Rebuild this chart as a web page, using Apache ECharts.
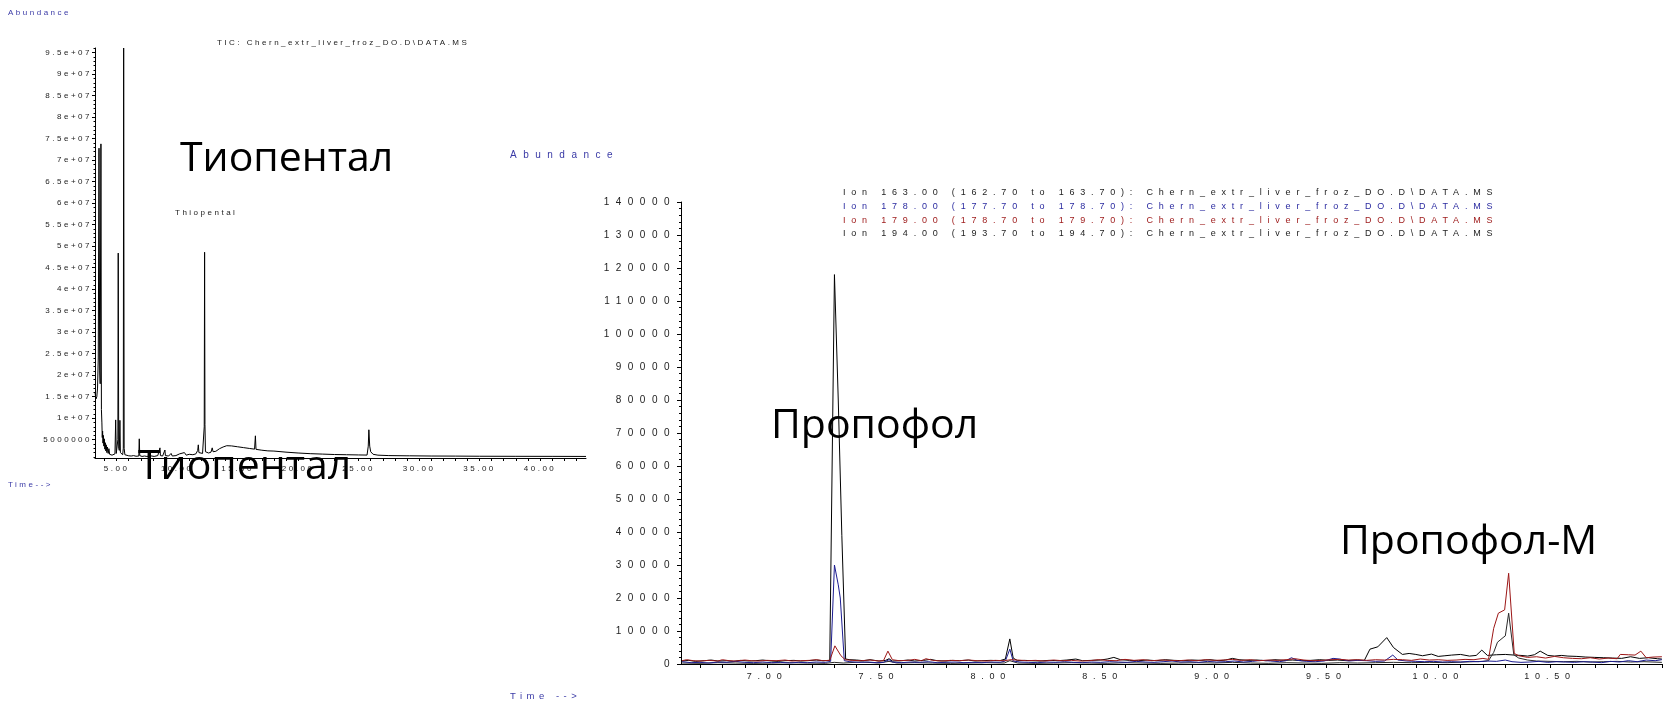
<!DOCTYPE html>
<html><head><meta charset="utf-8">
<script src="https://cdn.jsdelivr.net/npm/echarts@6/dist/echarts.min.js"></script>
<style>html,body{margin:0;padding:0;background:#fff;}#c{width:1663px;height:701px;}</style>
</head><body><div id="c"></div>
<script>
// ---------- TIC chromatogram (left) ----------
var ticXRange = [3.21, 43.8];
var ticYRange = [740000, 96100000];
var ticXLabels = [5, 10, 15, 20, 25, 30, 35, 40];
var ticYLabels = [5000000, 10000000, 15000000, 20000000, 25000000, 30000000, 35000000, 40000000, 45000000,
  50000000, 55000000, 60000000, 65000000, 70000000, 75000000, 80000000, 85000000, 90000000, 95000000];
// [time (min), abundance]
var ticData = [
  [3.21,16000000],[3.25,15200000],[3.30,14500000],[3.36,15000000],[3.42,17000000],[3.48,24000000],[3.54,72800000],
  [3.60,21000000],[3.64,18000000],[3.70,73800000],[3.74,12000000],[3.78,8900000],[3.81,5500000],[3.84,7000000],
  [3.87,4200000],[3.90,6000000],[3.94,3500000],[3.98,5200000],[4.02,2800000],[4.06,4300000],[4.10,2400000],
  [4.14,3800000],[4.19,2000000],[4.24,3300000],[4.30,1800000],[4.36,2900000],[4.42,1600000],[4.50,1500000],
  [4.62,1400000],[4.75,1500000],[4.86,1700000],[4.92,9600000],[4.97,1800000],[5.05,1900000],[5.10,5000000],
  [5.13,48400000],[5.17,3000000],[5.22,2500000],[5.27,9500000],[5.31,2000000],[5.40,1600000],[5.50,1500000],
  [5.55,3000000],[5.58,96100000],[5.62,3000000],[5.68,1500000],[5.80,1300000],[6.00,1250000],[6.20,1200000],
  [6.40,1300000],[6.60,1150000],[6.83,1200000],[6.87,5200000],[6.91,1300000],[7.10,1100000],[7.30,1200000],
  [7.50,1100000],[7.80,1250000],[8.10,1100000],[8.40,1300000],[8.55,1400000],[8.58,3100000],[8.62,1300000],
  [8.80,1200000],[8.96,1400000],[8.99,2600000],[9.03,1300000],[9.30,1200000],[9.50,1800000],[9.60,1200000],
  [9.90,1300000],[10.20,1700000],[10.35,1300000],[10.60,2000000],[10.75,1400000],[11.00,1600000],[11.30,1500000],
  [11.55,1700000],[11.70,2500000],[11.75,3800000],[11.80,2000000],[11.95,1900000],[12.10,1800000],[12.20,2000000],
  [12.24,8000000],[12.27,48600000],[12.30,8500000],[12.34,2200000],[12.45,1800000],[12.60,1900000],[12.80,2100000],
  [12.90,3100000],[12.97,2200000],[13.20,2300000],[13.50,2900000],[13.80,3300000],[14.10,3600000],[14.50,3550000],
  [15.00,3350000],[15.50,3150000],[16.00,2950000],[16.40,2800000],[16.47,5900000],[16.52,2750000],[17.00,2550000],
  [17.50,2400000],[18.00,2350000],[18.05,2600000],[18.10,2300000],[19.00,2100000],[20.00,1900000],[21.00,1750000],
  [22.00,1650000],[23.00,1550000],[24.00,1500000],[25.00,1450000],[25.70,1420000],[25.80,3500000],[25.85,7300000],
  [25.92,3500000],[26.00,2200000],[26.20,1600000],[26.60,1400000],[27.50,1300000],[29.00,1250000],[29.10,1350000],
  [29.20,1250000],[31.00,1200000],[33.00,1180000],[35.00,1150000],[38.00,1130000],[41.00,1120000],[43.80,1100000]
];

// ---------- Extracted ion chromatograms (right) ----------
var eicXRange = [6.615, 11.005];
var eicXLabels = [7.0, 7.5, 8.0, 8.5, 9.0, 9.5, 10.0, 10.5];
var eicXTicks = [6.7,6.8,6.9,7.0,7.1,7.2,7.3,7.4,7.5,7.6,7.7,7.8,7.9,8.0,8.1,8.2,8.3,8.4,8.5,8.6,8.7,8.8,8.9,
  9.0,9.1,9.2,9.3,9.4,9.5,9.6,9.7,9.8,9.9,10.0,10.1,10.2,10.3,10.4,10.5,10.6,10.7,10.8,10.9,11.0];
var eicYRange = [0, 140000];
var ionNames = [
  'Ion 163.00 (162.70 to 163.70): Chern_extr_liver_froz_DO.D\\DATA.MS',
  'Ion 178.00 (177.70 to 178.70): Chern_extr_liver_froz_DO.D\\DATA.MS',
  'Ion 179.00 (178.70 to 179.70): Chern_extr_liver_froz_DO.D\\DATA.MS',
  'Ion 194.00 (193.70 to 194.70): Chern_extr_liver_froz_DO.D\\DATA.MS'
];
var ion163 = [
  [6.62,900],[6.65,1100],[6.68,800],[6.72,1000],[6.75,1200],[6.78,900],[6.82,1000],[6.85,800],[6.88,1100],[6.92,900],
  [6.95,1000],[6.98,1200],[7.02,900],[7.05,800],[7.08,1000],[7.12,1100],[7.15,900],[7.18,1000],[7.22,1200],[7.25,1000],
  [7.28,1100],[7.284,1300],[7.301,118000],[7.318,80000],[7.334,39000],[7.351,1500],[7.37,1300],[7.40,1200],[7.43,1000],
  [7.46,1300],[7.50,900],[7.53,1100],[7.545,1600],[7.56,900],[7.60,1000],[7.63,1200],[7.66,900],[7.70,1100],[7.73,1400],
  [7.76,1000],[7.80,900],[7.83,1100],[7.86,1000],[7.90,1200],[7.93,900],[7.96,1000],[8.00,1100],[8.04,1000],[8.065,1500],
  [8.085,7600],[8.10,1800],[8.12,1000],[8.15,1100],[8.18,1000],[8.22,900],[8.26,1100],[8.30,1000],[8.34,1200],[8.38,1500],
  [8.41,1000],[8.45,1100],[8.49,1200],[8.52,1500],[8.55,2000],[8.58,1300],[8.62,1100],[8.66,1000],[8.70,1200],[8.74,1000],
  [8.78,1300],[8.82,1100],[8.86,1000],[8.90,1200],[8.94,1100],[8.98,1300],[9.02,1000],[9.05,1200],[9.08,1700],[9.11,1300],
  [9.15,1100],[9.19,1200],[9.23,1000],[9.27,1300],[9.31,1100],[9.35,1200],[9.39,1000],[9.43,1100],[9.47,1300],[9.51,1100],
  [9.55,1200],[9.59,1000],[9.63,1200],[9.67,1100],[9.695,4500],[9.73,5200],[9.77,8000],[9.80,5000],[9.84,2900],[9.87,3200],
  [9.90,2900],[9.93,2500],[9.97,3000],[10.00,2300],[10.03,2500],[10.06,2700],[10.10,2900],[10.14,2400],[10.17,2600],
  [10.195,4200],[10.22,2600],[10.26,2800],[10.30,2900],[10.34,2700],[10.37,2600],[10.40,2400],[10.43,2800],[10.456,3900],
  [10.49,2600],[10.52,2400],[10.55,2600],[10.58,2400],[10.62,2300],[10.66,2100],[10.70,2000],[10.74,1900],[10.78,1800],
  [10.82,1700],[10.86,2200],[10.90,1700],[10.94,1900],[10.98,1600],[11.0,1500]
];
var ion178 = [
  [6.62,700],[6.66,400],[6.70,500],[6.74,300],[6.78,600],[6.82,500],[6.86,800],[6.90,500],[6.94,400],[6.98,600],[7.02,400],
  [7.06,500],[7.10,300],[7.14,500],[7.18,400],[7.22,600],[7.26,500],[7.284,800],[7.301,30000],[7.318,24000],[7.327,20000],
  [7.345,1000],[7.37,700],[7.41,500],[7.45,600],[7.49,400],[7.52,500],[7.545,1300],[7.56,600],[7.60,400],[7.64,600],
  [7.68,500],[7.72,700],[7.76,400],[7.80,500],[7.84,600],[7.88,400],[7.92,500],[7.96,400],[8.00,600],[8.04,500],[8.065,900],
  [8.085,4500],[8.10,900],[8.13,600],[8.17,500],[8.21,400],[8.25,600],[8.29,500],[8.33,700],[8.37,500],[8.41,400],[8.45,600],
  [8.49,500],[8.53,700],[8.57,600],[8.61,500],[8.65,800],[8.69,600],[8.73,500],[8.77,700],[8.81,900],[8.85,600],[8.89,700],
  [8.93,500],[8.97,800],[9.01,600],[9.05,700],[9.09,900],[9.13,600],[9.17,800],[9.21,1100],[9.25,900],[9.29,700],[9.32,1000],
  [9.344,1900],[9.37,1100],[9.41,800],[9.45,700],[9.49,900],[9.53,1700],[9.56,1500],[9.60,900],[9.64,1100],[9.68,1000],
  [9.72,800],[9.76,900],[9.797,2700],[9.82,1200],[9.86,900],[9.90,800],[9.94,700],[9.98,800],[10.02,600],[10.06,700],
  [10.10,600],[10.14,800],[10.18,700],[10.22,900],[10.26,800],[10.30,1200],[10.33,700],[10.37,500],[10.41,600],[10.45,800],
  [10.49,500],[10.53,700],[10.57,600],[10.61,500],[10.65,700],[10.69,600],[10.73,400],[10.77,800],[10.81,600],[10.85,1000],
  [10.89,700],[10.93,1200],[10.97,1000],[11.0,1300]
];
var ion179 = [
  [6.62,1000],[6.64,1300],[6.67,1000],[6.70,900],[6.74,1100],[6.78,900],[6.80,1300],[6.83,1000],[6.86,900],[6.90,1200],
  [6.93,1000],[6.96,900],[7.00,1100],[7.04,1000],[7.08,1200],[7.11,900],[7.15,1000],[7.19,1100],[7.22,1300],[7.25,1000],
  [7.28,1100],[7.303,5500],[7.33,2500],[7.349,1300],[7.38,1100],[7.42,1000],[7.46,1200],[7.50,900],[7.52,1000],[7.54,3900],
  [7.56,1300],[7.59,1000],[7.63,1100],[7.66,1400],[7.69,1000],[7.71,1600],[7.74,1100],[7.78,900],[7.82,1100],[7.86,1000],
  [7.90,1200],[7.94,1000],[7.98,900],[8.02,1100],[8.06,1000],[8.09,1300],[8.12,1200],[8.16,1000],[8.20,1100],[8.24,900],
  [8.28,1200],[8.32,1000],[8.36,1100],[8.40,900],[8.44,1000],[8.48,1300],[8.52,1100],[8.56,1000],[8.60,1400],[8.64,1100],
  [8.68,1300],[8.72,1000],[8.76,1200],[8.80,1100],[8.84,1000],[8.88,1200],[8.92,1000],[8.96,1300],[9.00,1100],[9.04,1200],
  [9.08,1400],[9.12,1100],[9.16,1300],[9.20,1000],[9.24,1200],[9.28,1100],[9.32,1300],[9.36,1600],[9.40,1200],[9.44,1000],
  [9.48,1100],[9.52,1300],[9.56,1400],[9.60,1200],[9.64,1300],[9.68,1100],[9.72,1300],[9.76,1200],[9.80,1400],[9.84,1300],
  [9.88,1100],[9.92,1500],[9.96,1200],[10.00,1300],[10.04,1100],[10.08,1200],[10.12,1400],[10.16,1300],[10.20,1700],
  [10.225,1400],[10.248,10800],[10.269,15400],[10.297,16400],[10.315,27500],[10.34,3200],[10.36,2500],[10.40,2000],
  [10.44,2200],[10.48,1800],[10.52,2300],[10.56,1900],[10.60,1700],[10.64,1600],[10.68,1900],[10.72,1500],[10.76,1800],
  [10.80,1600],[10.814,2900],[10.85,2800],[10.88,2700],[10.906,3900],[10.93,1900],[10.96,2100],[11.0,2200]
];
var ion194 = [
  [6.62,300],[6.70,200],[6.78,400],[6.86,300],[6.94,200],[7.02,300],[7.10,400],[7.18,300],[7.26,200],[7.30,500],[7.34,300],
  [7.42,600],[7.50,300],[7.545,800],[7.58,300],[7.66,400],[7.74,300],[7.82,200],[7.90,300],[7.98,400],[8.06,300],[8.085,1000],
  [8.12,300],[8.20,200],[8.28,300],[8.36,400],[8.44,300],[8.52,200],[8.60,400],[8.68,300],[8.76,200],[8.84,300],[8.92,400],
  [9.00,300],[9.08,500],[9.16,300],[9.24,200],[9.32,400],[9.40,300],[9.48,200],[9.56,400],[9.64,300],[9.72,400],[9.80,500],
  [9.88,400],[9.96,500],[10.04,400],[10.12,600],[10.20,800],[10.225,1000],[10.248,3500],[10.265,6600],[10.29,8000],
  [10.30,8500],[10.315,15400],[10.338,2800],[10.36,1800],[10.40,1200],[10.44,900],[10.50,800],[10.56,700],[10.62,800],
  [10.68,600],[10.74,700],[10.80,800],[10.86,600],[10.92,700],[11.0,500]
];

// ---------- letter spacing for the small instrument-style text ----------
(function () {
  var P = CanvasRenderingContext2D.prototype;
  if (!('letterSpacing' in P)) return;
  var orig = P.fillText;
  var map = { '8': '2.5px', '9': '5.8px', '9.5': '4.5px', '10': '6.5px' };
  P.fillText = function (t, x, y, w) {
    var m = /(\d+(?:\.\d+)?)px/.exec(this.font);
    var ls = (m && map[m[1]]) || '0px';
    try { this.letterSpacing = ls; } catch (e) {}
    return w === undefined ? orig.call(this, t, x, y) : orig.call(this, t, x, y, w);
  };
})();

var FONT = '"Liberation Sans", Arial, sans-serif';
var BIG = '"Open Sans", "Noto Sans", sans-serif';
var LBLUE = '#3a3aa6';
var BLUE = '#1c1c90';
var RED = '#9c1616';

var ticYMinor = [];
for (var k = 1; k <= 96; k++) ticYMinor.push(k * 1000000);
var ticXMinor = [];
for (var j = 4; j <= 43; j++) ticXMinor.push(j);

function expLabel(v) {
  if (v < 10000000) return String(v);
  var m = Math.round(v / 1000000) / 10;
  return m + 'e+07';
}

function txt(text, x, y, size, color, family) {
  return {
    type: 'text', x: x, y: y, z: 100,
    style: {
      text: text, fontSize: size, fontFamily: family || FONT, fill: color || '#222',
      textAlign: 'left', textVerticalAlign: 'middle', align: 'left', verticalAlign: 'middle'
    }
  };
}

var chart = echarts.init(document.getElementById('c'), null, { renderer: 'canvas' });
chart.setOption({
  animation: false,
  backgroundColor: '#fff',
  grid: [
    { left: 95, top: 48, width: 491, height: 410 },
    { left: 681, top: 202, width: 982, height: 462 }
  ],
  xAxis: [
    {
      gridIndex: 0, type: 'value', min: ticXRange[0], max: ticXRange[1],
      splitLine: { show: false },
      axisLine: { onZero: false, lineStyle: { color: '#000', width: 1 } },
      axisTick: { customValues: ticXMinor, length: 3, lineStyle: { color: '#000' } },
      axisLabel: { customValues: ticXLabels, formatter: function (v) { return v.toFixed(2); },
        fontSize: 8, fontFamily: FONT, color: '#222', margin: 7 }
    },
    {
      gridIndex: 1, type: 'value', min: eicXRange[0], max: eicXRange[1],
      splitLine: { show: false },
      axisLine: { onZero: false, lineStyle: { color: '#000', width: 1 } },
      axisTick: { customValues: eicXTicks, length: 4, lineStyle: { color: '#000' } },
      axisLabel: { customValues: eicXLabels, formatter: function (v) { return v.toFixed(2); },
        fontSize: 9, fontFamily: FONT, color: '#222', margin: 8 }
    }
  ],
  yAxis: [
    {
      gridIndex: 0, type: 'value', position: 'left', min: ticYRange[0], max: ticYRange[1],
      splitLine: { show: false },
      axisLine: { onZero: false, lineStyle: { color: '#000', width: 1 } },
      axisTick: { customValues: ticYLabels, length: 3, lineStyle: { color: '#000' } },
      axisLabel: { customValues: ticYLabels, formatter: expLabel, fontSize: 8, fontFamily: FONT, color: '#222', margin: 3 }
    },
    {
      gridIndex: 0, type: 'value', position: 'left', offset: 0, min: ticYRange[0], max: ticYRange[1],
      splitLine: { show: false },
      axisLine: { show: false },
      axisTick: { customValues: ticYMinor, length: 1.5, lineStyle: { color: '#000' } },
      axisLabel: { show: false }
    },
    {
      gridIndex: 1, type: 'value', position: 'left', min: eicYRange[0], max: eicYRange[1], interval: 10000,
      splitLine: { show: false },
      axisLine: { onZero: false, lineStyle: { color: '#000', width: 1 } },
      axisTick: { length: 4, lineStyle: { color: '#000' } },
      minorTick: { show: true, splitNumber: 5, length: 2, lineStyle: { color: '#000' } },
      axisLabel: { formatter: function (v) { return String(v); }, fontSize: 10, fontFamily: FONT, color: '#222', margin: 5 }
    }
  ],
  series: [
    { name: 'TIC', type: 'line', xAxisIndex: 0, yAxisIndex: 0, data: ticData, symbol: 'none',
      lineStyle: { width: 1, color: '#000' }, clip: true },
    { name: ionNames[0], type: 'line', xAxisIndex: 1, yAxisIndex: 2, data: ion163, symbol: 'none',
      lineStyle: { width: 1, color: '#000' }, clip: true },
    { name: ionNames[3], type: 'line', xAxisIndex: 1, yAxisIndex: 2, data: ion194, symbol: 'none',
      lineStyle: { width: 1, color: '#2a2a2a' }, clip: true },
    { name: ionNames[1], type: 'line', xAxisIndex: 1, yAxisIndex: 2, data: ion178, symbol: 'none',
      lineStyle: { width: 1, color: BLUE }, clip: true },
    { name: ionNames[2], type: 'line', xAxisIndex: 1, yAxisIndex: 2, data: ion179, symbol: 'none',
      lineStyle: { width: 1, color: RED }, clip: true }
  ],
  graphic: [
    txt('Abundance', 8, 13, 8, LBLUE),
    txt('TIC: Chern_extr_liver_froz_DO.D\\DATA.MS', 217, 43, 8, '#222'),
    txt('Thiopental', 175, 213, 8, '#222'),
    txt('Time-->', 8, 485, 8, LBLUE),
    txt('Abundance', 510, 155, 10, LBLUE),
    txt('Time -->', 510, 696, 9.5, LBLUE),
    txt(ionNames[0], 843, 193, 9, '#222'),
    txt(ionNames[1], 843, 207, 9, '#2a2aa0'),
    txt(ionNames[2], 843, 221, 9, '#a02020'),
    txt(ionNames[3], 843, 234, 9, '#222'),
    txt('Тиопентал', 180, 159, 41, '#000', BIG),
    txt('Тиопентал', 138, 467, 41, '#000', BIG),
    txt('Пропофол', 771, 426, 41, '#000', BIG),
    txt('Пропофол-М', 1340, 542, 41, '#000', BIG)
  ]
});
</script>
</body></html>
